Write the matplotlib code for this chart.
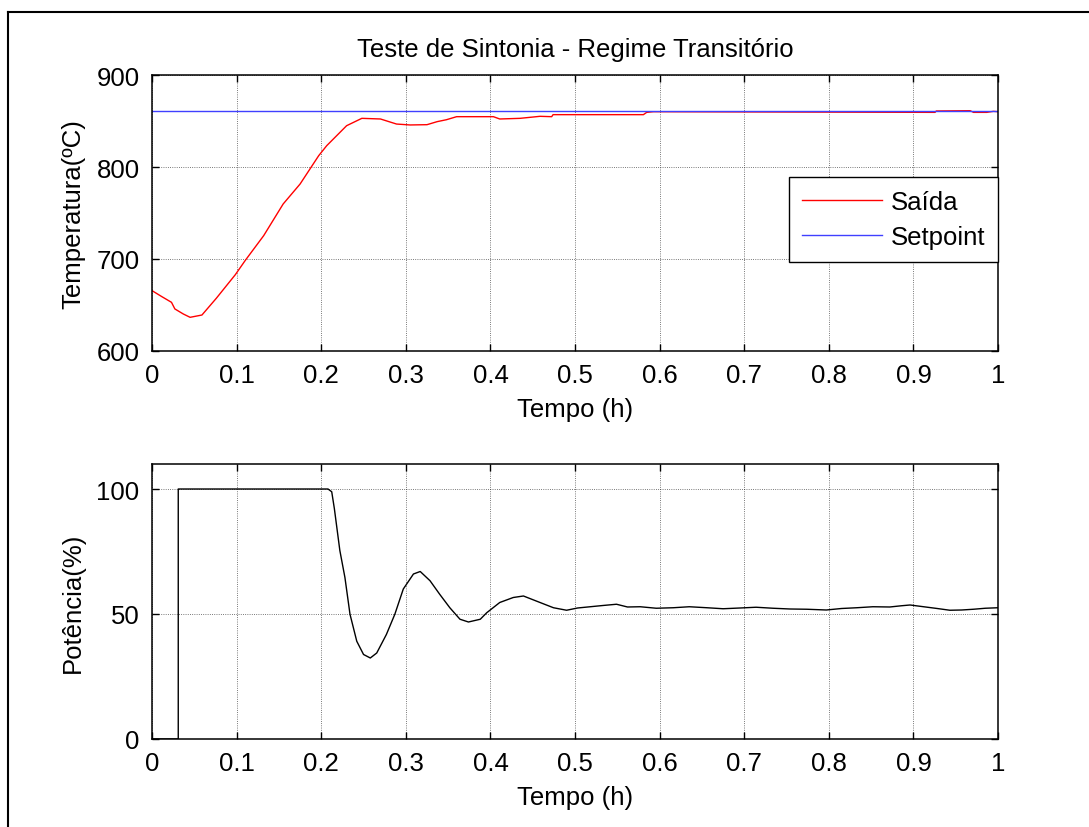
import matplotlib
matplotlib.use("Agg")
import matplotlib.pyplot as plt
from matplotlib.lines import Line2D

plt.rcParams['font.family'] = ['Liberation Sans', 'DejaVu Sans']

# Saída (temperature output)
t_saida = [0.0, 0.011, 0.023, 0.027, 0.037, 0.045, 0.059, 0.076, 0.0985, 0.11,
           0.132, 0.155, 0.175, 0.197, 0.2065, 0.23, 0.248, 0.27, 0.289, 0.305,
           0.325, 0.337, 0.348, 0.36, 0.4035, 0.411, 0.435, 0.4586, 0.4724, 0.474,
           0.5808, 0.5847, 0.5926, 0.9255, 0.927, 0.967, 0.971, 0.9866, 0.9945, 1.0]
temp_saida = [665.6, 659.4, 652.9, 645.7, 640.2, 636.6, 639.1, 657.3, 683.0, 698.2,
              725.4, 759.8, 781.5, 812.3, 823.2, 844.9, 852.9, 852.2, 846.7, 845.7,
              846.0, 849.3, 851.4, 854.7, 854.7, 852.2, 852.9, 855.1, 854.7, 856.9,
              856.9, 859.4, 860.1, 859.4, 860.9, 861.2, 859.4, 859.4, 860.5, 860.1]
setpoint = 861.0

# Potência (control output)
t_pot = [0.0, 0.031, 0.031, 0.208, 0.2124, 0.2155, 0.222, 0.228, 0.234, 0.242,
         0.25, 0.258, 0.2656, 0.277, 0.287, 0.297, 0.309, 0.317, 0.3286, 0.34,
         0.352, 0.364, 0.374, 0.388, 0.3956, 0.411, 0.427, 0.439, 0.4586, 0.4745,
         0.49, 0.503, 0.518, 0.533, 0.549, 0.562, 0.577, 0.596, 0.616, 0.635,
         0.656, 0.675, 0.695, 0.714, 0.734, 0.754, 0.774, 0.797, 0.815, 0.833,
         0.852, 0.872, 0.886, 0.896, 0.912, 0.928, 0.943, 0.957, 0.971, 0.985, 1.0]
pot = [0.0, 0.0, 100.0, 100.0, 98.9, 92.2, 75.4, 64.6, 49.9, 39.1,
       33.8, 32.4, 34.4, 41.8, 49.9, 60.0, 66.0, 67.0, 63.3, 57.9,
       52.5, 47.9, 46.8, 47.9, 50.5, 54.6, 56.6, 57.2, 54.6, 52.5,
       51.5, 52.4, 52.9, 53.4, 53.9, 52.8, 52.9, 52.3, 52.5, 52.9,
       52.5, 52.1, 52.4, 52.7, 52.3, 52.0, 51.9, 51.6, 52.2, 52.5,
       52.9, 52.8, 53.3, 53.6, 52.9, 52.2, 51.5, 51.6, 51.9, 52.3, 52.5]

xticks = [0, 0.1, 0.2, 0.3, 0.4, 0.5, 0.6, 0.7, 0.8, 0.9, 1.0]
xticklabels = ['0', '0.1', '0.2', '0.3', '0.4', '0.5', '0.6', '0.7', '0.8', '0.9', '1']

FS = 18.5

fig = plt.figure(figsize=(10.89, 8.28), dpi=100)
ax1 = fig.add_axes([0.1396, 0.5749, 0.7769, 0.3333])
ax2 = fig.add_axes([0.1396, 0.1063, 0.7769, 0.3321])


def style_axes(ax):
    ax.set_xlim(0, 1)
    ax.set_xticks(xticks)
    ax.set_xticklabels(xticklabels)
    ax.tick_params(direction='in', top=True, right=True, length=5, width=1,
                   labelsize=FS, pad=9)
    ax.grid(True, color='k', linestyle=':', linewidth=0.6, alpha=0.7)
    for s in ax.spines.values():
        s.set_linewidth(1.1)
    ax.set_xlabel('Tempo (h)', fontsize=FS, labelpad=7)


ax1.plot(t_saida, temp_saida, color='r', linewidth=1.0, label='Saída')
ax1.axhline(setpoint, color='#4040ff', linewidth=1.0, label='Setpoint')
ax1.set_ylim(600, 900)
ax1.set_yticks([600, 700, 800, 900])
style_axes(ax1)
ax1.set_ylabel('Temperatura(ºC)', fontsize=FS, labelpad=8)
ax1.set_title('Teste de Sintonia - Regime Transitório', fontsize=FS, pad=14)
leg = ax1.legend(loc='upper right', bbox_to_anchor=(1.0, 0.629), fontsize=FS,
                 fancybox=False, framealpha=1, edgecolor='k', handlelength=3.1,
                 handletextpad=0.35, labelspacing=0.42, borderaxespad=0,
                 borderpad=0.5)
leg.get_frame().set_linewidth(1.0)

ax2.plot(t_pot, pot, color='k', linewidth=1.0)
ax2.set_ylim(0, 110)
ax2.set_yticks([0, 50, 100])
style_axes(ax2)
ax2.set_ylabel('Potência(%)', fontsize=FS, labelpad=8)

# outer frame (top and left edges visible)
fig.add_artist(Line2D([8 / 1089, 1.0], [1 - 13 / 828, 1 - 13 / 828],
                      transform=fig.transFigure, color='k', linewidth=1.5))
fig.add_artist(Line2D([8 / 1089, 8 / 1089], [0.0, 1 - 13 / 828],
                      transform=fig.transFigure, color='k', linewidth=1.5))

fig.savefig('out.png', dpi=100)
